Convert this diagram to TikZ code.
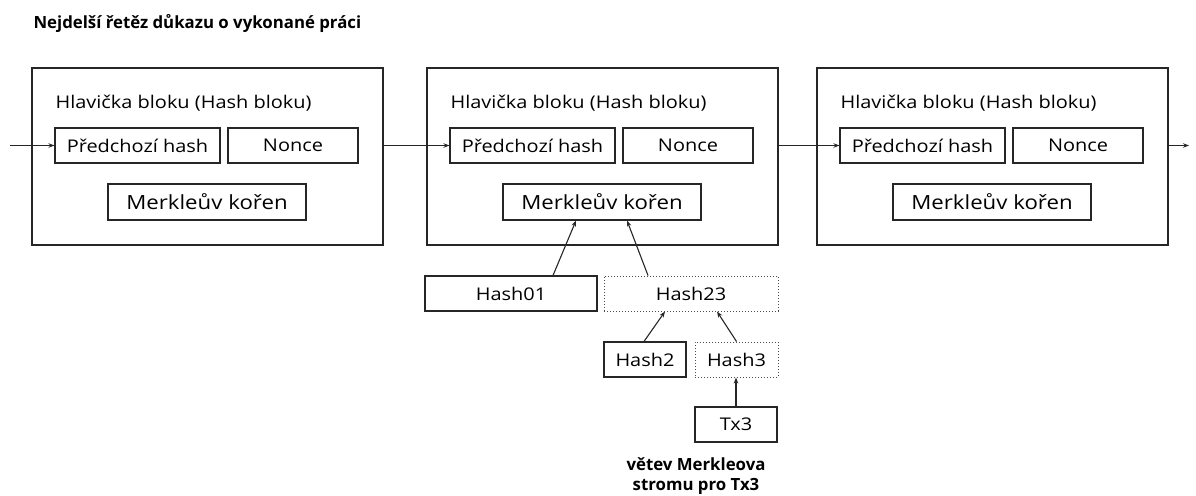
\documentclass[tikz,border=0pt]{standalone}
\usepackage{fontspec}
\setmainfont{Open Sans}[FakeStretch=1.14]
\newfontfamily\boldfam{Open Sans}
\usetikzlibrary{calc,arrows.meta}
\begin{document}
\begin{tikzpicture}[x=1pt,y=-1pt,
  line width=1.1pt,
  box/.style={draw=black!85,line width=1.1pt,inner sep=0pt,font=\fontsize{17.5}{20}\selectfont},
  dotbox/.style={draw=black!70,dotted,line width=1pt,inner sep=0pt,font=\fontsize{17.5}{20}\selectfont},
  block/.style={draw=black!85,line width=1.1pt,minimum width=351pt,minimum height=177pt,inner sep=0pt},
  small/.style={box,minimum width=165pt,minimum height=35pt},
  nonce/.style={box,minimum width=130pt,minimum height=35pt},
  merk/.style={box,minimum width=198pt,minimum height=36pt,font=\fontsize{19.5}{22}\selectfont},
  hdr/.style={anchor=west,inner sep=0pt,font=\fontsize{17.5}{20}\selectfont},
  bold/.style={inner sep=0pt,font=\boldfam\bfseries\fontsize{16.8}{20.5}\selectfont,align=center},
  arr/.style={-{Stealth[length=6pt,width=4.5pt]},line width=1.1pt,draw=black!85}
]
\useasboundingbox (0,0) rectangle (1196,495);
\node[bold,anchor=west] (title) at (33,23) {Nejdelší řetěz důkazu o vykonané práci};

\foreach \i/\dx in {1/0,2/395,3/785}{
  \node[block] (blk\i) at (207.5+\dx,156.5) {};
  \node[hdr] (hdr\i) at (55+\dx,103) {Hlavička bloku (Hash bloku)};
  \node[small] (prev\i) at (137.5+\dx,145.5) {Předchozí hash};
  \node[nonce] (non\i) at (293+\dx,145.5) {Nonce};
  \node[merk] (mer\i) at (207+\dx,202) {Merkleův kořen};
}
\coordinate (in) at (10,145.5);
\coordinate (out) at (1189,145.5);
\draw[arr] (in) -- (prev1.west);
\draw[arr] (prev2.west -| blk1.east) -- (prev2.west);
\draw[arr] (prev3.west -| blk2.east) -- (prev3.west);
\draw[arr] (prev3.west -| blk3.east) -- (out);

\node[box,minimum width=172pt,minimum height=35pt] (h01) at (511,293.5) {Hash01};
\node[dotbox,minimum width=174pt,minimum height=35pt] (h23) at (691,293.5) {Hash23};
\node[box,minimum width=82pt,minimum height=35pt] (h2) at (645,359.5) {Hash2};
\node[dotbox,minimum width=83pt,minimum height=35pt] (h3) at (736.5,359.5) {Hash3};
\node[box,minimum width=82pt,minimum height=35pt] (tx3) at (736,424.5) {Tx3};
\node[bold] (cap) at (696,476) {větev Merkleova\\stromu pro Tx3};

\draw[arr] ($(h01.north)+(42,0)$) -- ($(mer2.south)+(-26,0)$);
\draw[arr] ($(h23.north)+(-43,0)$) -- ($(mer2.south)+(25,0)$);
\draw[arr] ($(h2.north)+(-1,0)$) -- ($(h23.south)+(-26,0)$);
\draw[arr] (h3.north) -- ($(h23.south)+(26,0)$);
\draw[arr] (tx3.north) -- (tx3.north |- h3.south);
\end{tikzpicture}
\end{document}
